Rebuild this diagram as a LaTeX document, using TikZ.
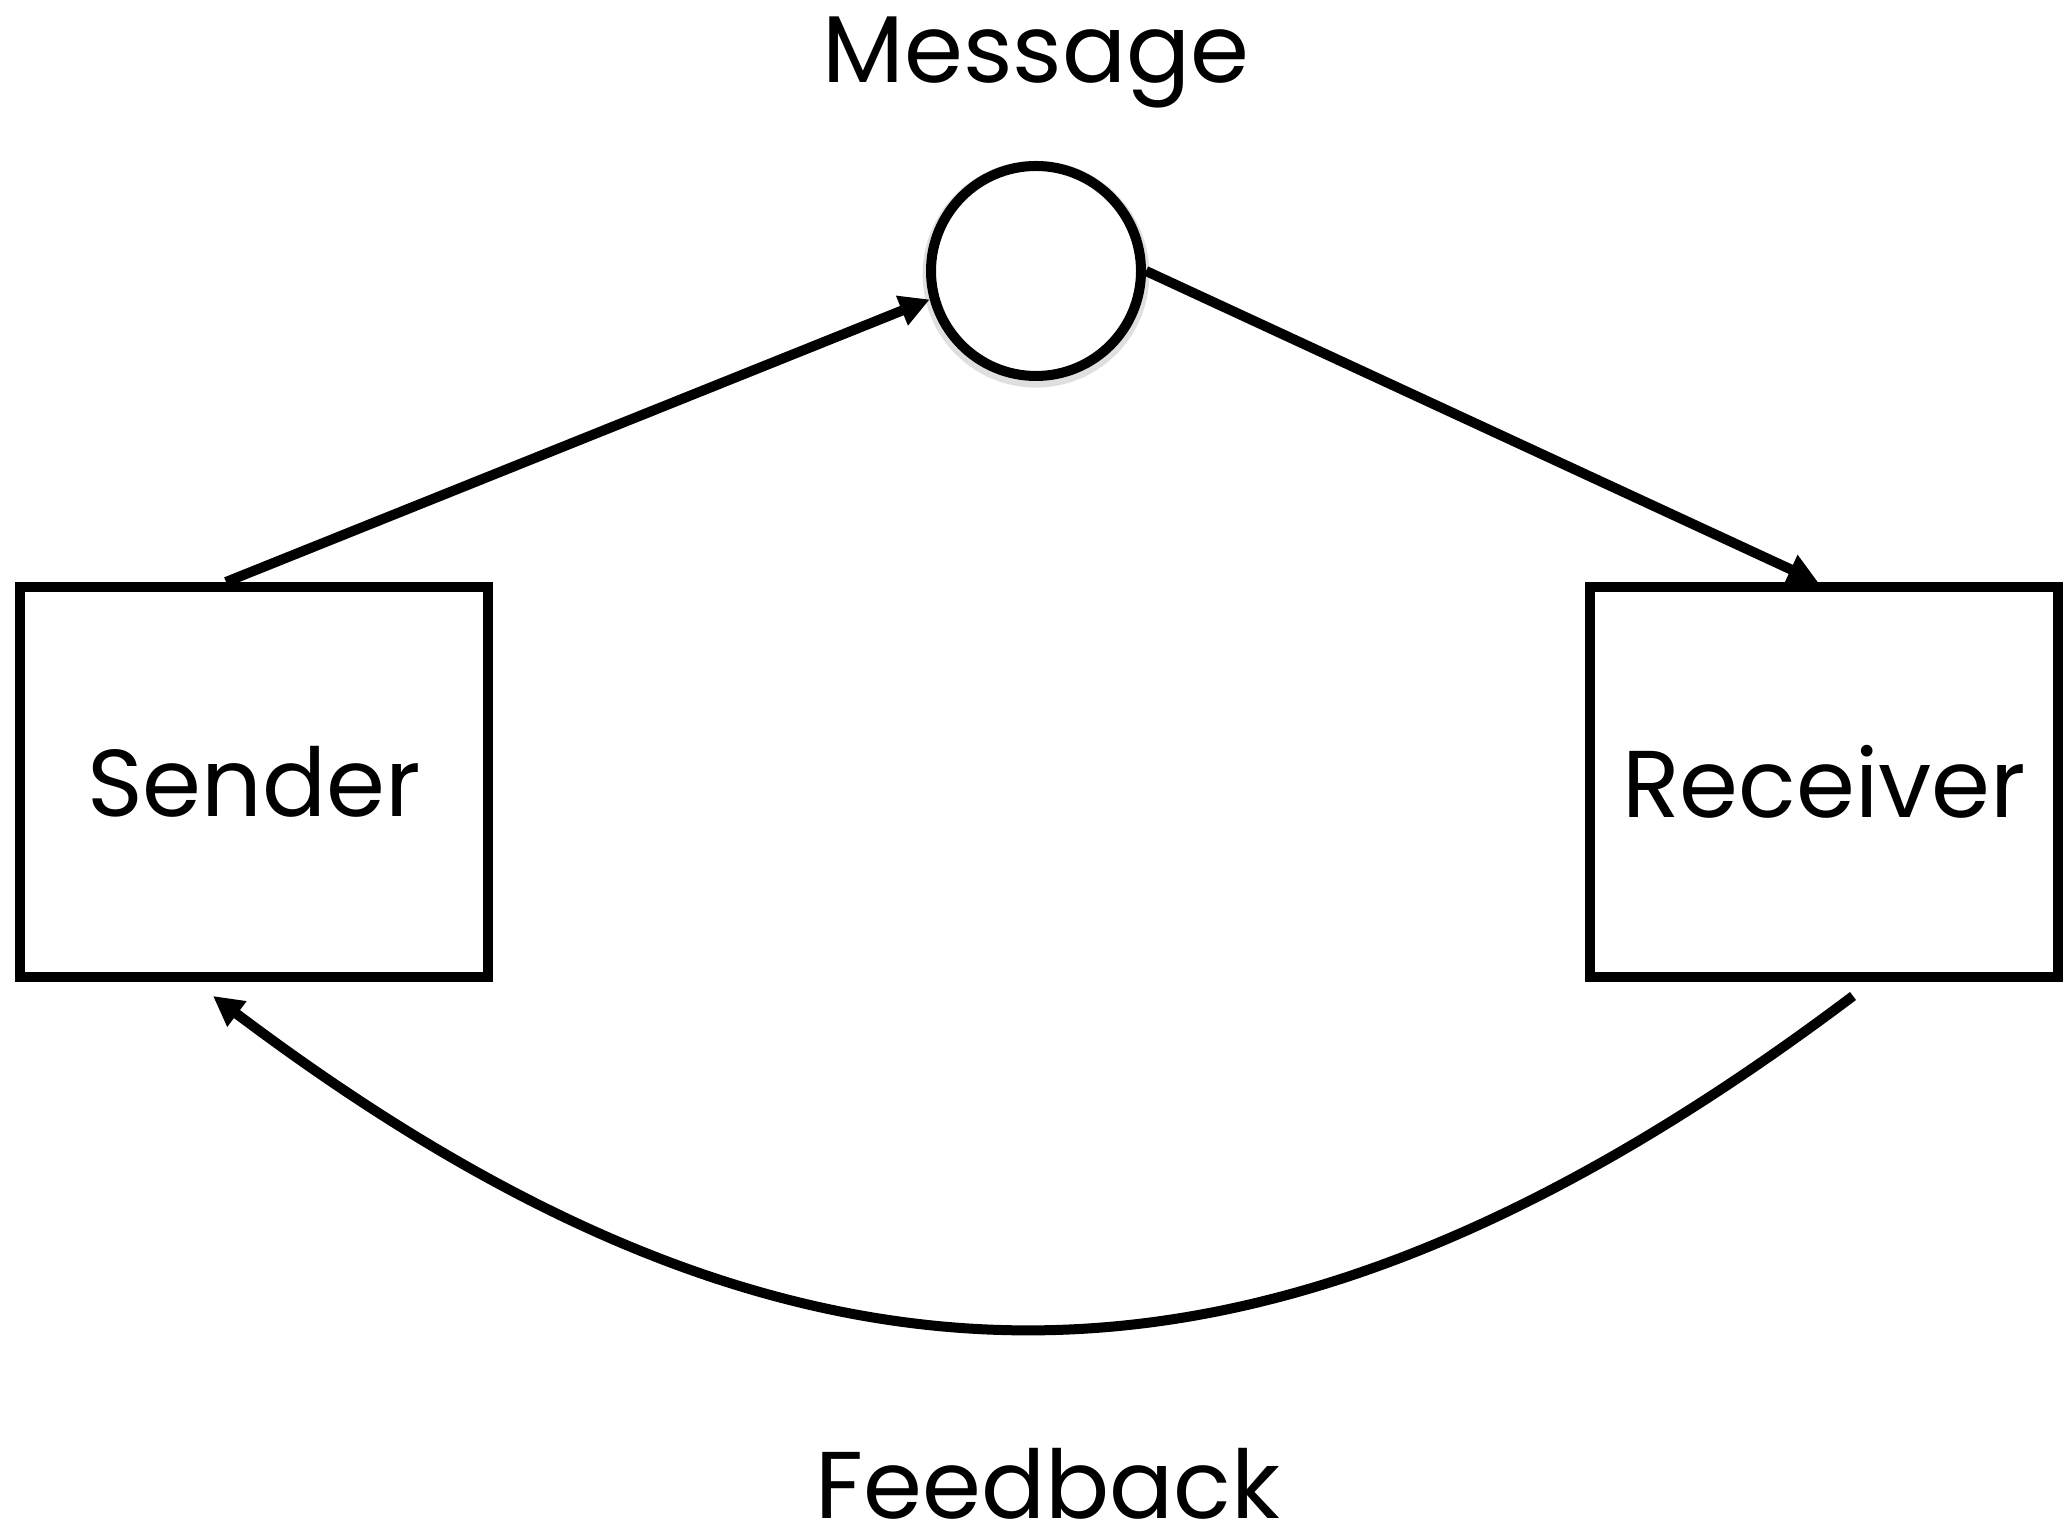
\documentclass[tikz,border=0pt]{standalone}
\usepackage{fontspec}
\setmainfont{Poppins}
\usetikzlibrary{arrows.meta,shadows}

\begin{document}
\begin{tikzpicture}[>={Triangle[length=3mm,width=3mm]}, line width=1mm,
	agent/.style={draw, rectangle, minimum width=4.68cm, minimum height=3.9cm, font=\fontsize{27}{32}\selectfont},
	channel/.style={draw, circle, fill=white, minimum size=2.1cm,
		drop shadow={shadow scale=1.08, shadow xshift=0mm, shadow yshift=-0.3mm, opacity=0.25}},
	caption/.style={anchor=base, inner sep=0pt, font=\fontsize{27}{32}\selectfont}]
	\useasboundingbox (0,0) rectangle (20.64,-15.37);
	\node [agent]   (sender)   at (2.54,-7.82)  {Sender};
	\node [agent]   (receiver) at (18.24,-7.82) {Receiver};
	\node [channel] (message)  at (10.36,-2.71) {};
	\node [caption] (msglabel) at (10.36,-0.83) {Message};
	\node [caption] (fblabel)  at (10.48,-15.18) {Feedback};
	\coordinate (S) at ([xshift=-2.8mm]sender.north);
	\coordinate (R) at ([xshift=-0.6mm]receiver.north);
	\coordinate (F) at ([shift={(2.9mm,-1.4mm)}]receiver.south);
	\coordinate (B) at ([shift={(-4.1mm,-1.4mm)}]sender.south);
	\draw [->] (S) -- (message.195);
	\draw [->] (message.east) -- (R);
	\draw [->] (F) .. controls +(-5.88,-4.43) and +(5.88,-4.43) .. (B);
\end{tikzpicture}
\end{document}
